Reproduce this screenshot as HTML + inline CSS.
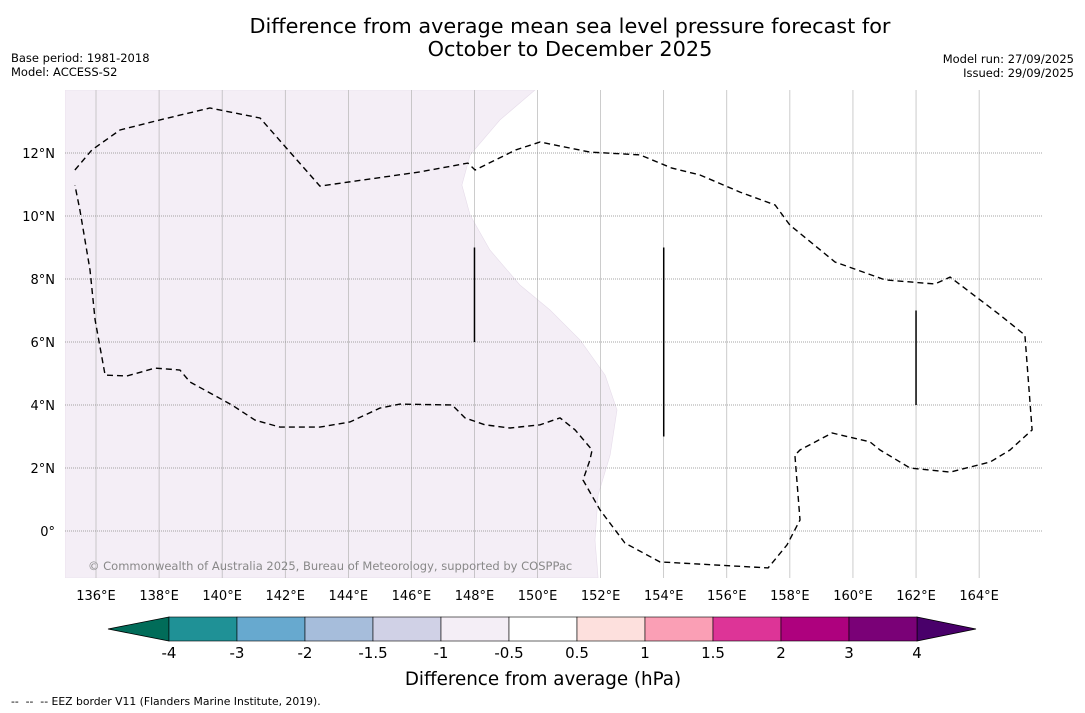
<!DOCTYPE html>
<html><head><meta charset="utf-8"><style>
body{margin:0;background:#fff;font-family:"DejaVu Sans","Liberation Sans",sans-serif;}
#wrap{position:relative;width:1085px;height:713px;overflow:hidden;background:#fff}
.t{position:absolute;white-space:pre}
</style></head><body>
<div id="wrap">
<div class="t" style="left:0;width:1140px;top:15px;text-align:center;font-size:20.8px;line-height:23px;color:#000">Difference from average mean sea level pressure forecast for
October to December 2025</div>
<div class="t" style="left:11px;top:51px;font-size:11.5px;line-height:14px">Base period: 1981-2018
Model: ACCESS-S2</div>
<div class="t" style="right:11px;top:52px;font-size:11.5px;line-height:14px;text-align:right">Model run: 27/09/2025
Issued: 29/09/2025</div>
<svg id="svg" width="1085" height="713" style="position:absolute;left:0;top:0"></svg>
<div class="t" style="left:11px;top:695px;font-size:10.8px">--  --  -- EEZ border V11 (Flanders Marine Institute, 2019).</div>
</div>
<script>
const lonTicks=[136,138,140,142,144,146,148,150,152,154,156,158,160,162,164];
const latTicks=[0,2,4,6,8,10,12];
const shadeLon=[149.92,148.81,147.86,147.6,147.86,148.49,149.44,150.39,151.35,152.14,152.52,152.3,151.92,151.82,151.92];
const shadeLat=[14.0,13.05,11.94,10.98,10.03,8.92,7.81,7.02,6.06,4.95,3.84,2.41,1.14,-0.29,-1.49];
const eezLon=[135.33,135.87,136.76,138.03,139.61,141.2,143.1,146.27,147.79,148.02,149.31,150.08,151.66,153.25,154.26,155.15,156.42,157.53,158.0,159.43,161.02,162.6,163.08,164.66,165.45,165.68,164.98,164.35,163.08,161.81,160.86,160.54,159.34,158.32,158.16,158.32,157.91,157.31,153.88,152.77,151.98,151.44,151.66,151.73,151.19,150.71,150.08,149.13,148.33,147.7,147.29,145.64,145.0,144.05,143.1,141.83,141.04,140.31,138.98,138.66,137.87,136.98,136.29,135.97,135.81,135.49,135.33];
const eezLat=[11.46,12.1,12.73,13.05,13.43,13.11,10.95,11.4,11.68,11.46,12.1,12.35,12.03,11.94,11.52,11.3,10.76,10.35,9.71,8.54,7.97,7.84,8.06,6.86,6.22,3.21,2.57,2.19,1.87,2.0,2.57,2.83,3.11,2.57,2.41,0.35,-0.44,-1.17,-0.98,-0.38,0.67,1.62,2.25,2.57,3.21,3.59,3.37,3.27,3.37,3.59,4.0,4.03,3.9,3.46,3.3,3.3,3.52,4.0,4.73,5.11,5.17,4.92,4.95,6.7,8.29,10.19,10.98,11.46];
const segLon=[148,154,162];
const segLat0=[6,3,4];
const segLat1=[9,9,7];
const cbBounds=["-4","-3","-2","-1.5","-1","-0.5","0.5","1","1.5","2","3","4"];
const cbColors=["#1f9196","#67a9cf","#a6bddb","#d0d1e6","#f4eef6","#ffffff","#fde0dd","#fa9fb5","#dd3497","#ae017e","#7a0177"];
const cbLow="#016c59", cbHigh="#49006a";

const NS="http://www.w3.org/2000/svg";
const FONT='DejaVu Sans,Liberation Sans,sans-serif';
const svg=document.getElementById('svg');
const X0=65,X1=1042,Y0=90,Y1=578;
const xs=lon=>96+(lon-136)*31.54;
const ys=lat=>531-lat*31.5;
function mk(tag,attrs,parent){const e=document.createElementNS(NS,tag);for(const k in attrs)e.setAttribute(k,attrs[k]);(parent||svg).appendChild(e);return e;}
const clip=mk('clipPath',{id:'clp'});mk('rect',{x:X0,y:Y0,width:X1-X0,height:Y1-Y0},clip);
const g=mk('g',{'clip-path':'url(#clp)'});


let d=`M${X0},${Y0} `;
shadeLon.forEach((lo,i)=>{d+=`L${xs(lo).toFixed(1)},${ys(shadeLat[i]).toFixed(1)} `;});
d+=`L${X0},${Y1} Z`;
const sh=mk('path',{d,fill:'#f4eef6',stroke:'#e6dcea','stroke-width':0.6},g);


lonTicks.forEach(lo=>{const l=mk('line',{x1:xs(lo),x2:xs(lo),y1:Y0,y2:Y1,stroke:'#aaa','stroke-width':0.6},g);

});
latTicks.forEach(la=>{const l=mk('line',{x1:X0,x2:X1,y1:ys(la),y2:ys(la),stroke:'#888','stroke-width':0.8,'stroke-dasharray':'1,1'},g);

});
const pts=eezLon.map((lo,i)=>xs(lo).toFixed(1)+','+ys(eezLat[i]).toFixed(1)).join(' ');
const eez=mk('polyline',{points:pts,fill:'none',stroke:'#000','stroke-width':1.4,'stroke-dasharray':'6,4'},g);


segLon.forEach((lo,i)=>{const l=mk('line',{x1:xs(lo),x2:xs(lo),y1:ys(segLat1[i]),y2:ys(segLat0[i]),stroke:'#000','stroke-width':1.5},g);

});
const cr=mk('text',{x:88,y:570,'font-size':11.5,fill:'#888','font-family':FONT},g);
cr.textContent='© Commonwealth of Australia 2025, Bureau of Meteorology, supported by COSPPac';


lonTicks.forEach(lo=>{const t=mk('text',{x:xs(lo),y:600,'text-anchor':'middle','font-size':13,fill:'#000','font-family':FONT});t.textContent=lo+'°E';

});
latTicks.forEach(la=>{const t=mk('text',{x:55,y:ys(la)+5,'text-anchor':'end','font-size':13,fill:'#000','font-family':FONT});t.textContent=la===0?'0°':la+'°N';

});
const CB0=169,CBW=68,CBY=617,CBH=24;
const n=cbColors.length,CB1=CB0+n*CBW;
const lt=mk('polygon',{points:`${CB0},${CBY} ${108},${CBY+CBH/2} ${CB0},${CBY+CBH}`,fill:cbLow,stroke:'#000','stroke-width':0.8});


const rt=mk('polygon',{points:`${CB1},${CBY} ${976},${CBY+CBH/2} ${CB1},${CBY+CBH}`,fill:cbHigh,stroke:'#000','stroke-width':0.8});


cbColors.forEach((c,i)=>{const r=mk('rect',{x:CB0+i*CBW,y:CBY,width:CBW,height:CBH,fill:c,stroke:'#000','stroke-width':0.6});

});
cbBounds.forEach((b,i)=>{const t=mk('text',{x:CB0+i*CBW,y:658,'text-anchor':'middle','font-size':15,fill:'#000','font-family':FONT});t.textContent=b;

});
const ct=mk('text',{x:543,y:685,'text-anchor':'middle','font-size':18.3,fill:'#000','font-family':FONT});
ct.textContent='Difference from average (hPa)';


</script>
</body></html>
